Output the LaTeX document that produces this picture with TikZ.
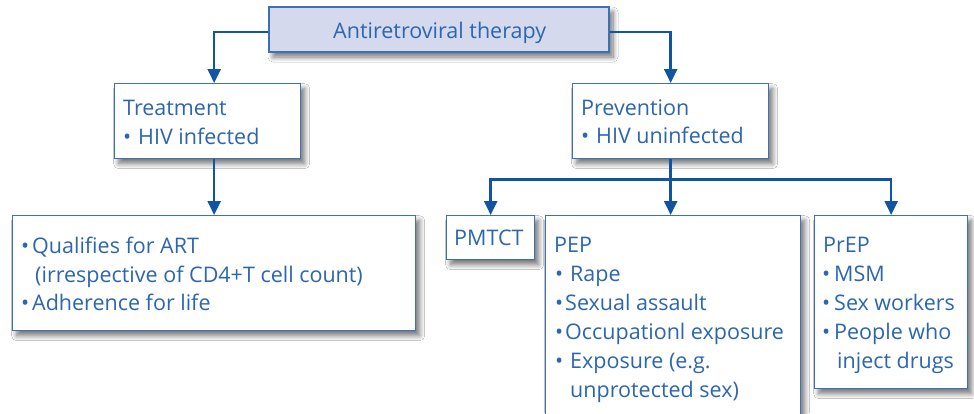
\documentclass[tikz,border=0pt]{standalone}
\usepackage{fontspec}
\setmainfont{Open Sans}
\usetikzlibrary{arrows.meta,shadows.blur}

\definecolor{inkblue}{RGB}{44,102,176}
\definecolor{lineblue}{RGB}{18,84,164}
\definecolor{edgeblue}{RGB}{62,112,182}
\definecolor{headfill}{RGB}{212,217,238}

% bullet followed by a fixed gap before the item text
\newcommand\bul[1]{\makebox[#1][l]{•}}

\tikzset{
  box/.style={draw=edgeblue, line width=1.3pt, fill=white, inner sep=0pt,
    anchor=north west,
    blur shadow={shadow xshift=4pt, shadow yshift=-5pt, shadow blur radius=5pt,
      shadow blur steps=10, shadow opacity=55}},
  headbox/.style={box, fill=headfill, anchor=center},
  txt/.style={text=inkblue, inner sep=0pt, anchor=base west,
    font=\fontsize{21.5pt}{29pt}\selectfont},
  conn/.style={draw=lineblue, line width=2.4pt},
  arr/.style={conn, -{Triangle[width=13pt,length=14pt]}}
}

\begin{document}
\begin{tikzpicture}[x=1pt,y=-1pt]
\useasboundingbox (0,0) rectangle (974,413);
\clip (0,0) rectangle (974,413);
\fill[white] (0,0) rectangle (974,413);

% boxes
\node[headbox, minimum width=340pt, minimum height=45pt] (art) at (439,29.5) {};
\node[box, minimum width=186pt, minimum height=75pt] (treat) at (114,83) {};
\node[box, minimum width=196pt, minimum height=75pt] (prev) at (572,83) {};
\node[box, minimum width=403pt, minimum height=115pt] (care) at (12,215) {};
\node[box, minimum width=88pt, minimum height=44pt] (pmtct) at (446,215) {};
\node[box, minimum width=255pt, minimum height=230pt] (pep) at (545,215) {};
\node[box, minimum width=153pt, minimum height=173pt] (prep) at (814,215) {};

% connectors
\coordinate (treatin) at (treat.north -| care.north);
\coordinate (treatout) at (treat.south -| care.north);
\coordinate (split) at ([yshift=-20pt]prev.south);
\draw[arr] ([yshift=-2.5pt]art.west) -| (treatin);
\draw[arr] ([yshift=-2.5pt]art.east) -| (prev.north);
\draw[arr] (treatout) -- (care.north);
\draw[arr] (prev.south) -- (prev.south |- pep.north);
\draw[arr] (split) -| (pmtct.north);
\draw[arr] (split) -| (prep.north);

% texts
\node[txt] (artT) at (333,38) {Antiretroviral therapy};

\node[txt] (treat1) at (123,115) {Treatment};
\node[txt] (treat2) at (123,144) {\bul{15pt}HIV infected};

\node[txt] (prev1) at (581,115) {Prevention};
\node[txt] (prev2) at (581,143) {\bul{15pt}HIV uninfected};

\node[txt] (care1) at (21,253) {\bul{11pt}Qualifies for ART};
\node[txt] (care2) at (35,282) {(irrespective of CD4+T cell count)};
\node[txt] (care3) at (21,310) {\bul{11pt}Adherence for life};

\node[txt] (pmtctT) at (454,245) {PMTCT};

\node[txt] (pep1) at (554,252) {PEP};
\node[txt] (pep2) at (555,281) {\bul{15pt}Rape};
\node[txt] (pep3) at (555,310) {\bul{10pt}Sexual assault};
\node[txt] (pep4) at (555,339) {\bul{10pt}Occupationl exposure};
\node[txt] (pep5) at (555,368) {\bul{15pt}Exposure (e.g.};
\node[txt] (pep6) at (570,397) {unprotected sex)};

\node[txt] (prep1) at (823,252) {PrEP};
\node[txt] (prep2) at (822,281) {\bul{12pt}MSM};
\node[txt] (prep3) at (822,310) {\bul{12pt}Sex workers};
\node[txt] (prep4) at (822,339) {\bul{12pt}People who};
\node[txt] (prep5) at (837,368) {inject drugs};
\end{tikzpicture}
\end{document}
